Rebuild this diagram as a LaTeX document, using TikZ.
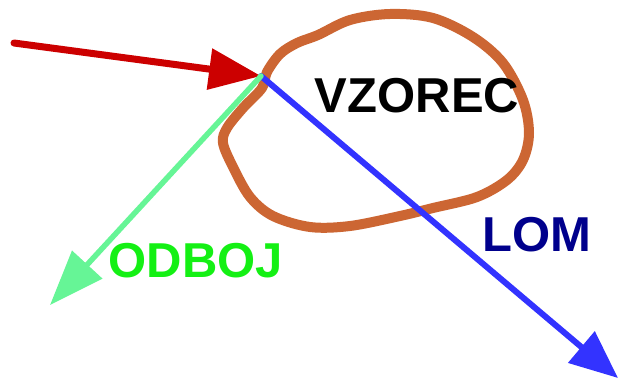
\documentclass[tikz,border=0pt]{standalone}
\usepackage{fontspec}
\setmainfont{Liberation Sans}
\usetikzlibrary{arrows.meta}
\definecolor{rayred}{RGB}{204,0,0}
\definecolor{rayblue}{RGB}{51,51,255}
\definecolor{raygreen}{RGB}{102,245,150}
\definecolor{loopbrown}{RGB}{204,102,51}
\definecolor{labgreen}{RGB}{20,240,20}
\definecolor{labnavy}{RGB}{0,0,140}
\tikzset{
  ray/.style={line width=6pt, line cap=round},
  bighead/.style={-{Triangle[length=#1, width=40pt]}},
  lab/.style={font=\fontsize{49}{49}\selectfont\bfseries, inner sep=0pt, anchor=base},
}
\begin{document}
\begin{tikzpicture}[x=1pt, y=-1pt]
  \useasboundingbox (0,0) rectangle (619,383);
  % points of the rays
  \coordinate (hit) at (261,76);
  \coordinate (src) at (14,43);
  \coordinate (refl) at (50,305);
  \coordinate (refr) at (618,378);
  % hand-drawn outline of the sample
  \draw[loopbrown, line width=10pt, line join=round]
    plot[smooth cycle, tension=0.55] coordinates {
      (267,72) (280,54) (297,43) (318,35) (350,20) (390,14) (433,18)
      (473,37) (503,63) (523,100) (529,133) (523,160) (507,180)
      (477,197) (433,208) (400,216) (350,226) (310,227) (273,216)
      (250,197) (233,167) (223,143) (227,128) (243,108) (262,88)};
  % refracted ray
  \draw[ray, rayblue, bighead=48pt] (hit) -- (refr);
  % incident ray
  \draw[ray, line width=7pt, rayred, bighead=52pt] (src) -- (hit);
  % reflected ray
  \draw[ray, line width=5.5pt, raygreen, bighead=55pt] (hit) -- (refl);
  % labels
  \node[lab] (vzorec) at (417,112) {VZOREC};
  \node[lab, labgreen] (odboj) at (196,277) {ODBOJ};
  \node[lab, labnavy] (lom) at (537,251) {LOM};
\end{tikzpicture}
\end{document}
